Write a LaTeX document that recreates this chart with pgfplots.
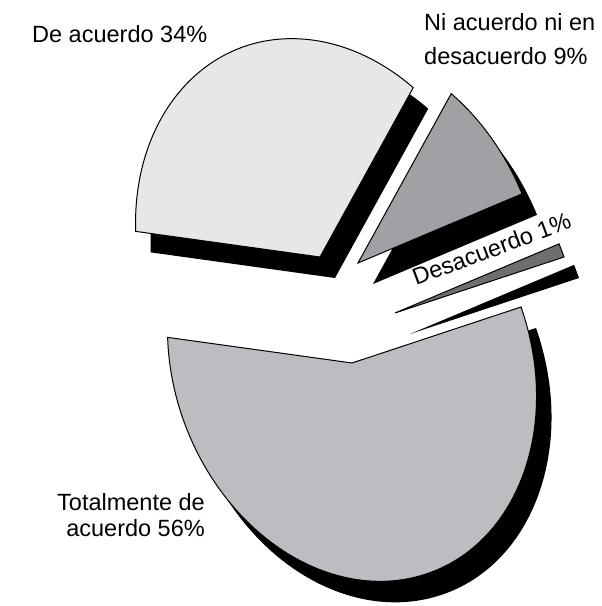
\documentclass[border=0pt]{standalone}
\usepackage{pgfplots}
\pgfplotsset{compat=1.18}
\usepackage{fontspec}
\setmainfont{Liberation Sans}
\definecolor{cTot}{RGB}{188,189,192}
\definecolor{cDe}{RGB}{230,231,232}
\definecolor{cNi}{RGB}{160,161,164}
\definecolor{cDes}{RGB}{109,110,112}
\tikzset{lbl/.style={font=\fontsize{23.5}{28}\selectfont, inner sep=0pt}}
% ellipse of the tilted pie (pt), and its tilt
\def\ra{177.96}
\def\rb{223.7}
\def\tilt{21.04}
% one wedge: apex x, apex y, start angle, end angle, style
\newcommand\pieslice[5]{%
  \fill[#5, shift={(axis cs:#1,#2)}, rotate=\tilt]
    (0pt,0pt) -- (#3:\ra pt and \rb pt)
    arc[start angle=#3, end angle=#4, x radius=\ra pt, y radius=\rb pt] -- cycle;}
\begin{document}
% shares in percent
\def\vTot{56}
\def\vDe{34}
\def\vNi{9}
\def\vDes{1}
\pgfmathsetmacro\tA{-2.155}
\pgfmathsetmacro\tB{\tA-3.6*\vTot}
\pgfmathsetmacro\tC{\tB-3.6*\vDe}
\pgfmathsetmacro\tD{\tC-3.6*\vNi}
\pgfmathsetmacro\tE{\tD-3.6*\vDes}
\begin{tikzpicture}
\begin{axis}[x=1pt, y=1pt, xmin=0, xmax=576, ymin=0, ymax=606,
  hide axis, clip=false]
\coordinate (bl) at (axis cs:0,0);
\coordinate (tr) at (axis cs:576,606);
% shadows
\pieslice{342}{222}{\tA}{\tB}{black}
\pieslice{310}{328}{\tB}{\tC}{black}
\pieslice{348}{322}{\tC}{\tD}{black}
\pieslice{385}{272}{\tD}{\tE}{black}
% slices
\pieslice{327}{243}{\tA}{\tB}{fill=cTot, draw=black, line width=1pt}
\pieslice{295}{349}{\tB}{\tC}{fill=cDe, draw=black, line width=1pt}
\pieslice{333}{343}{\tC}{\tD}{fill=cNi, draw=black, line width=1pt}
\pieslice{370}{293}{\tD}{\tE}{fill=cDes, draw=black, line width=1pt}
% labels
\node[lbl, anchor=base west] at (axis cs:7,563) {De acuerdo 34\%};
\node[lbl, anchor=base west] at (axis cs:399,575) {Ni acuerdo ni en};
\node[lbl, anchor=base west] at (axis cs:399,541) {desacuerdo 9\%};
\node[lbl, anchor=base west, rotate=20.5] at (axis cs:391,320) {Desacuerdo 1\%};
\node[lbl, anchor=base east] at (axis cs:180,95) {Totalmente de};
\node[lbl, anchor=base east] at (axis cs:180,69) {acuerdo 56\%};
\end{axis}
\pgfresetboundingbox
\path[use as bounding box] (bl) rectangle (tr);
\end{tikzpicture}
\end{document}
